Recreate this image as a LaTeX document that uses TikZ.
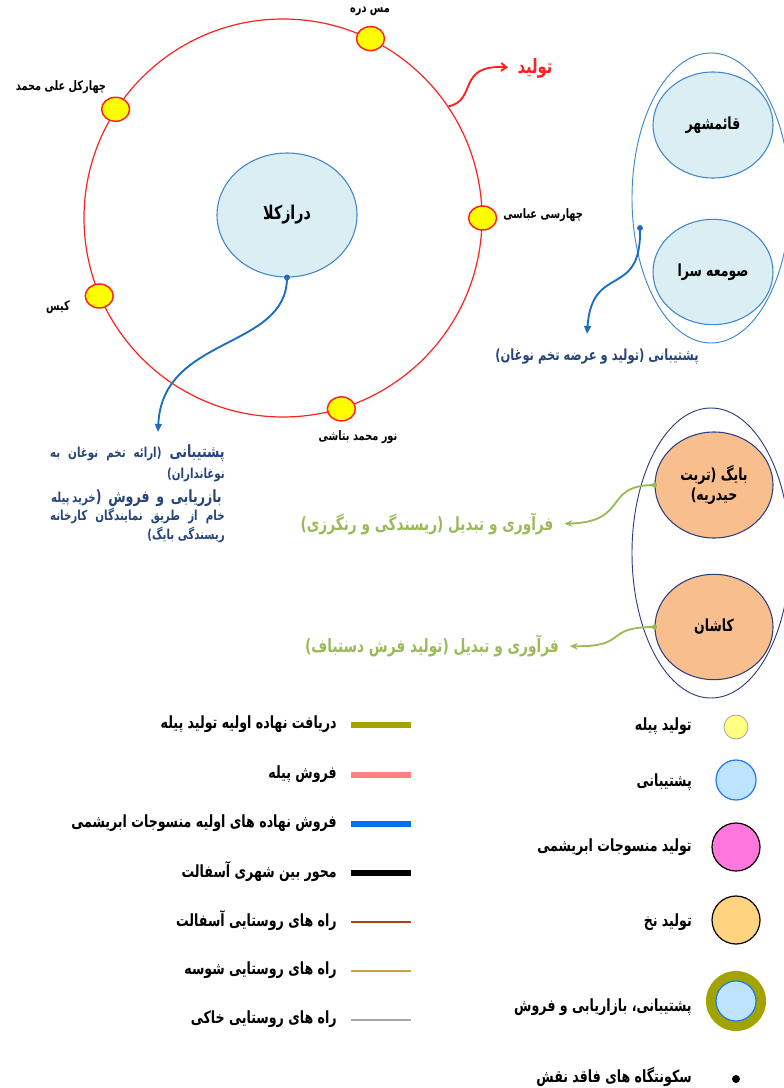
\documentclass[tikz,border=0pt]{standalone}
\usepackage{fontspec}
\usetikzlibrary{arrows.meta,shapes.geometric}
\TeXXeTstate=1
\newfontfamily\fa[Script=Arabic,FakeStretch=0.75]{DejaVu Sans}
\newcommand\rl[1]{\beginR #1\endR}
\newcommand\fsz[1]{\fontsize{#1}{#1}\selectfont}
\definecolor{ringred}{HTML}{FF2020}
\definecolor{vyellow}{HTML}{FFFF00}
\definecolor{cblue}{HTML}{DAEEF3}
\definecolor{cblueline}{HTML}{3F86CC}
\definecolor{arrowblue}{HTML}{1B6DBE}
\definecolor{navytext}{HTML}{26457A}
\definecolor{navyline}{HTML}{2E3F7E}
\definecolor{corange}{HTML}{F8BE8E}
\definecolor{cgreen}{HTML}{9BBB59}
\definecolor{cOlive}{HTML}{A3A300}
\definecolor{cSalmon}{HTML}{FF8080}
\definecolor{cLgBlue}{HTML}{0070F0}
\definecolor{cBrown}{HTML}{B0400C}
\definecolor{cTan}{HTML}{C9A04E}
\definecolor{cGray}{HTML}{A6A6A6}
\definecolor{cLYellow}{HTML}{FFFF80}
\definecolor{cLBlue}{HTML}{BDE3FF}
\definecolor{cLBline}{HTML}{1F78F0}
\definecolor{cPink}{HTML}{FF77DD}
\definecolor{cLOrange}{HTML}{FFD380}
\begin{document}
\begin{tikzpicture}[x=0.75pt,y=-0.75pt,
  village/.style={ellipse,draw=ringred,line width=1.1pt,fill=vyellow,minimum width=21pt,minimum height=18pt,inner sep=0pt},
  place/.style={font=\fa\bfseries\fsz{9.8},inner sep=0pt},
  town/.style={ellipse,draw=cblueline,line width=0.8pt,fill=cblue,inner sep=0pt,font=\fa\bfseries\fsz{12.5}},
  otown/.style={ellipse,draw=navyline,line width=0.8pt,fill=corange,inner sep=0pt,font=\fa\bfseries\fsz{12.5},align=center},
  groupA/.style={ellipse,draw=cblueline,line width=0.7pt,minimum width=118.5pt,minimum height=217.5pt,inner sep=0pt},
  groupB/.style={ellipse,draw=navyline,line width=0.7pt,minimum width=118.5pt,minimum height=217.5pt,inner sep=0pt},
  barrow/.style={draw=arrowblue,line width=1.4pt,-{Triangle[length=6pt,width=5pt]}},
  garrow/.style={draw=cgreen,line width=1.4pt,-{Stealth[length=6pt,width=5pt]}},
  rarrow/.style={draw=ringred,line width=1.4pt,-{Straight Barb[length=4pt,width=6pt]}},
  navy/.style={text=navytext,font=\fa\bfseries,inner sep=0pt},
  gtext/.style={text=cgreen,font=\fa\bfseries\fsz{13.7},inner sep=0pt},
  leg/.style={font=\fa\bfseries\fsz{12.6},inner sep=0pt,anchor=east},
]
\path[use as bounding box,fill=white] (0,0) rectangle (784,1088);

% ---- main ring
\node[circle,draw=ringred,line width=0.9pt,minimum size=298.5pt,inner sep=0pt] (ring) at (283,218) {};
\node[village] (v1) at (ring.64) {};
\node[village] (v2) at (ring.147) {};
\node[village] (v3) at (ring.0) {};
\node[village] (v4) at (ring.203) {};
\node[village] (v5) at (ring.287) {};
\node[place] (t1) at (370,11) {\rl{مس دره}};
\node[place] (t2) at (61,87) {\rl{چهارکل علی محمد}};
\node[place,anchor=west] (t3) at (503,215) {\rl{چهارسی عباسی}};
\node[place] (t4) at (58,307) {\rl{کیس}};
\node[place] (t5) at (358,437) {\rl{نور محمد بتاشی}};

\node[town,minimum width=105pt,minimum height=93pt,font=\fa\bfseries\fsz{14.2}] (darz) at (287,215) {\rl{درازکلا}};

% red arrow
\node[text=ringred,font=\fa\bfseries\fsz{14.8},inner sep=0pt] (prod) at (535,68) {\rl{تولید}};
\draw[rarrow,shorten >=7pt] (ring.34) .. controls (478,100) and (456,64) .. (prod.west);

% left blue arrow + text
\coordinate (arrL) at (158,432);
\draw[barrow] (darz.south) .. controls (287,350) and (162,335) .. (arrL);
\fill[arrowblue] (darz.south) circle (2.2pt);
\node[navy,anchor=base east] (nb1) at (225,457) {\hbox to 131pt{\beginR{\fsz{12.6}پشتیبانی}\hfill{\fsz{10.3}(ارائه}\hfill{\fsz{10.3}تخم}\hfill{\fsz{10.3}نوغان}\hfill{\fsz{10.3}به}\endR}};
\node[navy,anchor=base east] (nb2) at (225,478) {\fsz{10.3}\rl{نوغانداران)}};
\node[navy,anchor=base east] (nb3) at (222,502) {\hbox to 128pt{\beginR{\fsz{12.6}بازریابی}\hfill{\fsz{12.6}و}\hfill{\fsz{12.6}فروش}\hfill{\fsz{12.6}(}{\fsz{10.3}خرید}\hspace{2pt}{\fsz{10.3}پیله}\endR}};
\node[navy,anchor=base east] (nb4) at (225,520) {\hbox to 131pt{\beginR{\fsz{10.3}خام}\hfill{\fsz{10.3}از}\hfill{\fsz{10.3}طریق}\hfill{\fsz{10.3}نمایندگان}\hfill{\fsz{10.3}کارخانه}\endR}};
\node[navy,anchor=base east] (nb5) at (225,539) {\fsz{10.3}\rl{ریسندگی بایگ)}};

% ---- top right group
\node[groupA] (gA) at (711,198) {};
\node[town,minimum width=90pt,minimum height=79.5pt] (qa) at (713,125) {\rl{قائمشهر}};
\node[town,minimum width=90pt,minimum height=79pt] (so) at (713,272) {\rl{صومعه سرا}};
\coordinate (sdot) at (640,228);
\coordinate (arrR) at (587,334);
\draw[barrow] (sdot) .. controls (642,300) and (592,262) .. (arrR);
\fill[arrowblue] (sdot) circle (2.2pt);
\node[navy,font=\fa\bfseries\fsz{11.5}] (sup2) at (597,357) {\rl{پشتیبانی (تولید و عرضه تخم نوغان)}};

% ---- bottom right group
\node[groupB] (gB) at (711,553) {};
\node[otown,minimum width=88.5pt,minimum height=79.5pt] (bayg) at (714,485) {\rl{بایگ (تربت}\\[2pt]\rl{حیدریه)}};
\node[otown,minimum width=88.5pt,minimum height=79pt] (kash) at (714,627) {\rl{کاشان}};
\node[gtext] (g1) at (427,524) {\rl{فرآوری و تبدیل (ریسندگی و رنگرزی)}};
\node[gtext] (g2) at (432,646) {\rl{فرآوری و تبدیل (تولید فرش دستباف)}};
\draw[garrow,shorten >=8pt] (bayg.west) .. controls (602,485) and (630,522) .. (g1.east);
\draw[garrow,shorten >=8pt] (kash.west) .. controls (602,627) and (630,647) .. (g2.east);
\fill[cgreen] (bayg.west) circle (2pt);
\fill[cgreen] (kash.west) circle (2pt);

% ---- legend, lines
\draw[cOlive,line width=3.8pt] (351,725) -- (411,725);
\draw[cSalmon,line width=3.8pt] (351,775) -- (411,775);
\draw[cLgBlue,line width=3.8pt] (351,824) -- (411,824);
\draw[black,line width=3.8pt] (351,873) -- (411,873);
\draw[cBrown,line width=2.2pt] (351,922) -- (411,922);
\draw[cTan,line width=1.4pt] (351,971) -- (411,971);
\draw[cGray,line width=0.8pt] (351,1020) -- (411,1020);
\node[leg] (l1) at (337,724) {\rl{دریافت نهاده اولیه تولید پیله}};
\node[leg] (l2) at (337,774) {\rl{فروش پیله}};
\node[leg] (l3) at (337,823) {\rl{فروش نهاده های اولیه منسوجات ابریشمی}};
\node[leg] (l4) at (337,872) {\rl{محور بین شهری آسفالت}};
\node[leg] (l5) at (337,921) {\rl{راه های روستایی آسفالت}};
\node[leg] (l6) at (337,970) {\rl{راه های روستایی شوسه}};
\node[leg] (l7) at (337,1019) {\rl{راه های روستایی خاکی}};

% ---- legend, symbols
\node[circle,fill=cLYellow,draw=cGray,line width=0.6pt,minimum size=18pt,inner sep=0pt] (s1) at (736,727) {};
\node[circle,fill=cLBlue,draw=cLBline,line width=0.9pt,minimum size=30pt,inner sep=0pt] (s2) at (736,780) {};
\node[circle,fill=cPink,draw=black,line width=0.9pt,minimum size=36pt,inner sep=0pt] (s3) at (736,847) {};
\node[circle,fill=cLOrange,draw=black,line width=0.9pt,minimum size=36pt,inner sep=0pt] (s4) at (736,920) {};
\node[circle,fill=cOlive,minimum size=45pt,inner sep=0pt] (s5) at (736,1001) {};
\node[circle,fill=cLBlue,draw=cLBline,line width=0.9pt,minimum size=30pt,inner sep=0pt] (s5i) at (736,1001) {};
\node[circle,fill=black,minimum size=6pt,inner sep=0pt] (s6) at (736,1079) {};
\node[leg] (r1) at (692,726) {\rl{تولید پیله}};
\node[leg] (r2) at (692,782) {\rl{پشتیبانی}};
\node[leg] (r3) at (692,847) {\rl{تولید منسوجات ابریشمی}};
\node[leg] (r4) at (692,922) {\rl{تولید نخ}};
\node[leg] (r5) at (692,1007) {\rl{پشتیبانی، بازاریابی و فروش}};
\node[leg] (r6) at (692,1077) {\rl{سکونتگاه های فاقد نقش}};
\end{tikzpicture}
\end{document}
